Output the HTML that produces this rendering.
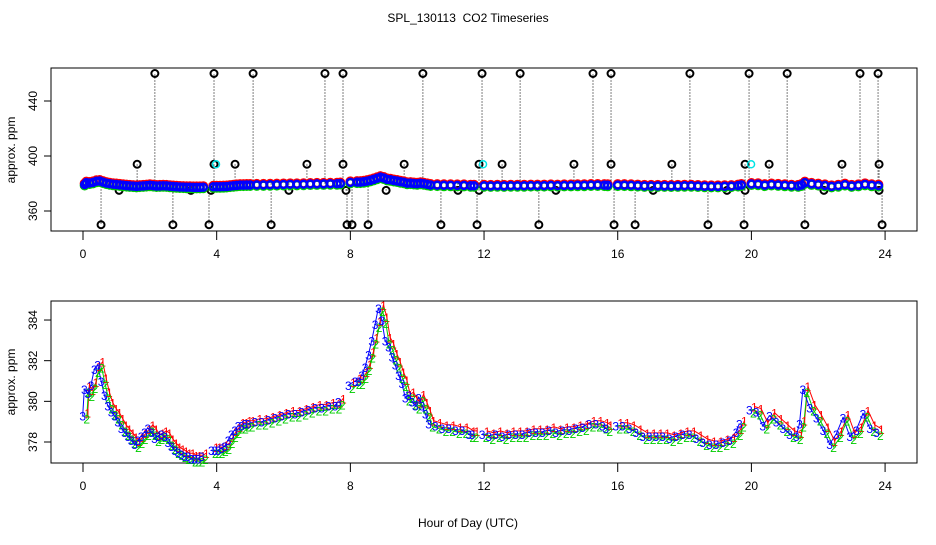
<!DOCTYPE html>
<html><head><meta charset="utf-8"><style>
body{margin:0;background:#fff}
svg text{font-family:"Liberation Sans",sans-serif}
</style></head><body>
<svg id="c" width="936" height="540" viewBox="0 0 936 540" xmlns="http://www.w3.org/2000/svg">
<text x="468" y="22" font-size="12" text-anchor="middle">SPL_130113 &#160;CO2 Timeseries</text>
<rect x="51" y="68" width="866" height="163" fill="none" stroke="#000"/>
<rect x="51" y="301" width="866" height="162" fill="none" stroke="#000"/>
<text transform="translate(15,150) rotate(-90)" font-size="12" text-anchor="middle">approx. ppm</text>
<text transform="translate(15,382) rotate(-90)" font-size="12" text-anchor="middle">approx. ppm</text>
<text x="468" y="527" font-size="12" text-anchor="middle">Hour of Day (UTC)</text>
<g id="gtop"></g><g id="gbot"></g>
</svg>
<script>
const hours=[0.05,0.1,0.2,0.3,0.4,0.5,0.6,0.7,0.8,0.9,1.0,1.1,1.2,1.3,1.4,1.5,1.6,1.7,1.8,1.9,2.0,2.1,2.2,2.3,2.4,2.5,2.6,2.7,2.8,2.9,3.0,3.1,3.2,3.3,3.4,3.5,3.6,3.9,4.0,4.1,4.2,4.3,4.4,4.5,4.6,4.7,4.8,4.9,5.0,5.2,5.4,5.6,5.8,6.0,6.2,6.4,6.6,6.8,7.0,7.2,7.4,7.6,7.7,8.0,8.2,8.3,8.4,8.5,8.6,8.7,8.8,8.9,9.0,9.1,9.2,9.3,9.4,9.5,9.6,9.7,9.8,9.9,10.0,10.1,10.2,10.3,10.4,10.6,10.8,11.0,11.2,11.4,11.6,11.7,12.0,12.2,12.4,12.6,12.8,13.0,13.2,13.4,13.6,13.8,14.0,14.2,14.4,14.6,14.8,15.0,15.2,15.4,15.6,15.7,16.0,16.2,16.4,16.6,16.8,17.0,17.2,17.4,17.6,17.8,18.0,18.2,18.4,18.6,18.8,19.0,19.2,19.4,19.6,19.7,20.0,20.2,20.4,20.6,20.8,21.0,21.2,21.4,21.5,21.6,21.8,22.0,22.2,22.4,22.6,22.8,23.0,23.2,23.4,23.6,23.8];
const co2=[379.3,380.6,380.4,380.8,381.6,381.8,381.0,380.3,379.8,379.5,379.3,379.0,378.7,378.5,378.3,378.1,377.9,378.1,378.3,378.5,378.7,378.5,378.2,378.3,378.4,378.3,378.0,377.8,377.6,377.5,377.4,377.3,377.3,377.2,377.2,377.2,377.3,377.6,377.6,377.6,377.7,377.8,378.1,378.4,378.6,378.8,378.8,378.9,378.9,379.0,379.0,379.1,379.2,379.3,379.4,379.4,379.5,379.6,379.7,379.7,379.8,379.8,380.0,380.8,381.0,381.0,381.3,381.7,382.3,383.0,383.8,384.6,384.0,383.0,382.7,382.2,381.8,381.3,380.9,380.2,380.3,380.0,379.8,380.2,379.8,379.4,378.9,378.8,378.7,378.7,378.6,378.6,378.4,378.4,378.4,378.3,378.4,378.3,378.4,378.4,378.4,378.5,378.5,378.5,378.6,378.5,378.6,378.6,378.7,378.75,378.9,378.9,378.8,378.7,378.8,378.8,378.7,378.5,378.3,378.3,378.3,378.3,378.2,378.3,378.4,378.4,378.2,378.0,377.9,377.9,378.0,378.1,378.5,378.9,379.6,379.5,378.8,379.3,379.0,378.7,378.4,378.3,378.9,380.6,379.7,379.2,378.6,377.9,378.4,379.2,378.3,378.6,379.4,378.7,378.5];
const outHours=[2.15,3.92,5.09,7.24,7.78,10.17,11.94,13.08,15.26,15.80,18.16,19.93,21.07,23.25,23.79,1.62,3.92,4.55,6.70,7.78,9.61,11.85,12.54,14.69,15.80,17.62,19.81,20.53,22.71,23.82,1.08,3.23,3.83,6.16,7.87,9.07,11.22,11.85,14.15,17.06,19.27,19.81,22.17,23.82,0.54,2.69,3.77,5.63,7.90,8.05,8.53,10.71,11.79,13.64,15.89,16.52,18.70,19.78,21.60,23.91];
const outVals=[460,460,460,460,460,460,460,460,460,460,460,460,460,460,460,394,394,394,394,394,394,394,394,394,394,394,394,394,394,394,375,375,375,375,375,375,375,375,375,375,375,375,375,375,350,350,350,350,350,350,350,350,350,350,350,350,350,350,350,350];
const cyanHours=[3.98,11.97,19.99];
const cyanVals=[394,394,394];
const xTicks=[0,4,8,12,16,20,24];
const topYTicks=[360,400,440];
const botYTicks=[378,380,382,384];

const NS="http://www.w3.org/2000/svg";
const xs=h=>83+h*33.42;
const yTop=v=>211-(v-360)*1.375;
const yBot=v=>442-(v-378)*20.33;
function mk(tag,attrs,parent,txt){const e=document.createElementNS(NS,tag);for(const k in attrs)e.setAttribute(k,attrs[k]);if(txt!==undefined)e.textContent=txt;parent.appendChild(e);return e;}
const gTop=document.getElementById('gtop'),gBot=document.getElementById('gbot');

function axes(g,ys,yTicks,boxBottom,name){
  mk('line',{x1:xs(0),x2:xs(24),y1:boxBottom,y2:boxBottom,stroke:'#000'},g);
  xTicks.forEach(t=>{
    const l=mk('line',{x1:xs(t),x2:xs(t),y1:boxBottom,y2:boxBottom+9,stroke:'#000'},g);
    
    
    const tx=mk('text',{x:xs(t),y:boxBottom+27,'font-size':12,'text-anchor':'middle'},g,t);
    
    
  });
  mk('line',{x1:51,x2:51,y1:ys(yTicks[0]),y2:ys(yTicks[yTicks.length-1]),stroke:'#000'},g);
  yTicks.forEach(t=>{
    const l=mk('line',{x1:44,x2:51,y1:ys(t),y2:ys(t),stroke:'#000'},g);
    
    
    const tx=mk('text',{transform:`translate(37,${ys(t)}) rotate(-90)`,'font-size':12,'text-anchor':'middle'},g,t);
    
    
  });
}
axes(gTop,yTop,topYTicks,231,'top');
axes(gBot,yBot,botYTicks,463,'bottom');

function segs(ys,dx,dy){const out=[];let cur=[];hours.forEach((h,i)=>{if(i>0&&h-hours[i-1]>0.25){out.push(cur);cur=[];}cur.push((xs(h)+dx).toFixed(1)+','+(ys(co2[i])+dy).toFixed(1));});out.push(cur);return out;}

outHours.forEach((h,i)=>{
  const s=mk('line',{x1:xs(h),x2:xs(h),y1:yTop(380),y2:yTop(outVals[i]),stroke:'#000','stroke-dasharray':'1,2','stroke-width':1},gTop);
  
  
  const c=mk('circle',{cx:xs(h),cy:yTop(outVals[i]),r:3.5,fill:'none',stroke:'#000','stroke-width':2},gTop);
  
  
});
cyanHours.forEach((h,i)=>{
  const c=mk('circle',{cx:xs(h),cy:yTop(cyanVals[i]),r:3.5,fill:'none',stroke:'#00e5e5','stroke-width':1.5},gTop);
  
  
});
[['#ff0000',0,-1],['#00cc00',0,1]].forEach(([col,dx,dy])=>{
  hours.forEach((h,i)=>{const c=mk('circle',{cx:xs(h)+dx,cy:yTop(co2[i])+dy,r:4,fill:'none',stroke:col,'stroke-width':2},gTop);
  
  });
});
hours.forEach((h,i)=>{const c=mk('circle',{cx:xs(h),cy:yTop(co2[i]),r:3.5,fill:'none',stroke:'#0000ff','stroke-width':2.5},gTop);
  
  });

const series=[['1','#ff0000',3,-3],['2','#00cc00',2,3],['3','#0000ff',-2,0]];
series.forEach(([lab,col,dx,dy])=>{
  segs(yBot,dx,dy).forEach(pts=>{const p=mk('polyline',{points:pts.join(' '),fill:'none',stroke:col,'stroke-width':1},gBot);
    
    });
});
series.forEach(([lab,col,dx,dy])=>{
  hours.forEach((h,i)=>{const t=mk('text',{x:xs(h)+dx,y:yBot(co2[i])+dy+5,'font-size':12,fill:col,'text-anchor':'middle'},gBot,lab);
    
    });
});
</script>
</body></html>
